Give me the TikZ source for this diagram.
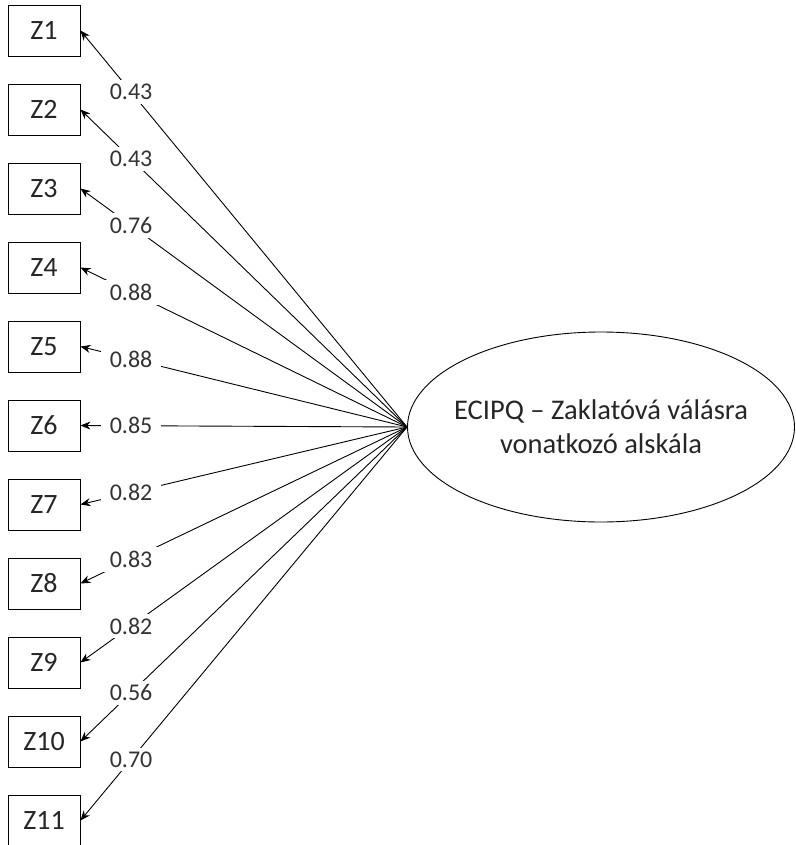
\documentclass[tikz,border=0pt]{standalone}
\usepackage{fontspec}
\setmainfont{Carlito}
\usetikzlibrary{shapes.geometric,arrows.meta}

\tikzset{
	item/.style={draw, line width=0.9pt, minimum width=72pt, minimum height=51pt, inner sep=0pt, font=\fontsize{28}{32}\selectfont},
	factor/.style={draw, ellipse, line width=0.9pt, minimum width=387pt, minimum height=190pt, inner xsep=-20pt, inner ysep=0pt, align=center, font=\fontsize{28.5}{34}\selectfont},
	load/.style={fill=white, inner xsep=9pt, inner ysep=4pt, font=\fontsize{24}{28}\selectfont, text=black!80},
	path/.style={line width=0.9pt, -{Stealth[length=10pt, width=8pt]}}
}

\begin{document}
\begin{tikzpicture}[x=1pt, y=-1pt, text=black!85]
	\useasboundingbox (0,0) rectangle (795,845);

	\node at (601, 427) [factor] (lat) {ECIPQ -- Zaklatóvá válásra\\vonatkozó alskála};

	\node at (44, 30.5) [item] (z1) {Z1};
	\node at (44, 109.5) [item] (z2) {Z2};
	\node at (44, 188.5) [item] (z3) {Z3};
	\node at (44, 267.5) [item] (z4) {Z4};
	\node at (44, 346.5) [item] (z5) {Z5};
	\node at (44, 425.5) [item] (z6) {Z6};
	\node at (44, 504.5) [item] (z7) {Z7};
	\node at (44, 583.5) [item] (z8) {Z8};
	\node at (44, 662.5) [item] (z9) {Z9};
	\node at (44, 741.5) [item] (z10) {Z10};
	\node at (44, 820.5) [item] (z11) {Z11};

	% loadings
	\draw [path] (lat.west) -- node [load, pos=0.845] {0.43} (z1.east);
	\draw [path] (lat.west) -- node [load, pos=0.845] {0.43} (z2.east);
	\draw [path] (lat.west) -- node [load, pos=0.845] {0.76} (z3.east);
	\draw [path] (lat.west) -- node [load, pos=0.845] {0.88} (z4.east);
	\draw [path] (lat.west) -- node [load, pos=0.845] {0.88} (z5.east);
	\draw [path] (lat.west) -- node [load, pos=0.845] {0.85} (z6.east);
	\draw [path] (lat.west) -- node [load, pos=0.845] {0.82} (z7.east);
	\draw [path] (lat.west) -- node [load, pos=0.845] {0.83} (z8.east);
	\draw [path] (lat.west) -- node [load, pos=0.845] {0.82} (z9.east);
	\draw [path] (lat.west) -- node [load, pos=0.845] {0.56} (z10.east);
	\draw [path] (lat.west) -- node [load, pos=0.845] {0.70} (z11.east);
\end{tikzpicture}
\end{document}
